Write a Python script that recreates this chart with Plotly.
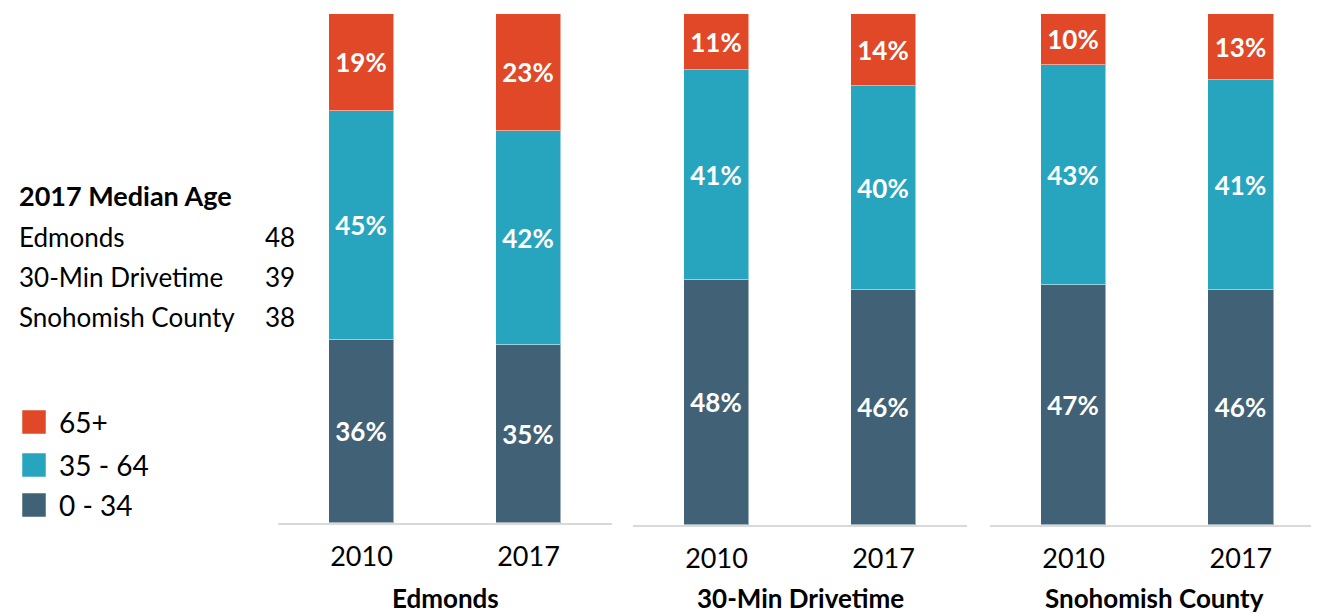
from plotly.subplots import make_subplots
import plotly.graph_objects as go

# data
areas = ["Edmonds", "30-Min Drivetime", "Snohomish County"]
years = ["2010", "2017"]
age_0_34 = [[36, 35], [48, 46], [47, 46]]
age_35_64 = [[45, 42], [41, 40], [43, 41]]
age_65_plus = [[19, 23], [11, 14], [10, 13]]
median_age_2017 = [48, 39, 38]

groups = ["0 - 34", "35 - 64", "65+"]
colors = ["#416176", "#28A5BE", "#E04827"]
FONT = "Lato"

# the page body has an 8px margin, so the figure is a bit smaller than the window
W, H, OFF = 1311, 606, 8

def px(x):
	return (x - OFF) / W

def py(y):
	return 1 - (y - OFF) / H

fig = make_subplots(rows=1, cols=3)

for c, area in enumerate(areas):
	for g, vals in enumerate([age_0_34, age_35_64, age_65_plus]):
		fig.add_trace(go.Bar(
			x=years, y=vals[c], name=groups[g], showlegend=False,
			marker=dict(color=colors[g], line=dict(color="rgba(255,255,255,0.5)", width=1)),
			width=0.39,
			texttemplate="%{y}%", textposition="inside", insidetextanchor="middle",
			textangle=0, constraintext="none",
			textfont=dict(family=FONT, size=26, color="white", weight="bold"),
		), row=1, col=c + 1)

fig.update_layout(barmode="stack")

# panel geometry
xdom = [[px(278), px(612)], [px(633), px(967)], [px(990), 1.0]]
ydom = [[py(523), py(14)], [py(525), py(14)], [py(525), py(14)]]
xrng = [[-0.5, 1.5], [-0.5, 1.5], [-0.5, 1.467]]

for i in range(3):
	sfx = "" if i == 0 else str(i + 1)
	fig.layout["xaxis" + sfx].update(
		domain=xdom[i], range=xrng[i], showline=True, linecolor="#D9D9D9", linewidth=2,
		showgrid=False, zeroline=False, ticks="", ticklabelstandoff=9,
		tickfont=dict(family=FONT, size=27, color="black"),
	)
	fig.layout["yaxis" + sfx].update(
		domain=ydom[i], range=[0, 100], visible=False, showgrid=False, zeroline=False,
	)
	# panel title
	fig.add_annotation(
		text="<b>" + areas[i] + "</b>", xref="x" + sfx + " domain", x=0.5,
		yref="paper", y=py(598), yanchor="middle", showarrow=False,
		font=dict(family=FONT, size=26, color="black"),
	)

# median age block
fig.add_annotation(
	text="<b>2017 Median Age</b>", xref="paper", x=px(17), xanchor="left",
	yref="paper", y=py(195), yanchor="middle", showarrow=False,
	font=dict(family=FONT, size=27, color="black"),
)
rows_y = [237, 277, 317]
for i, area in enumerate(areas):
	fig.add_annotation(
		text=area, xref="paper", x=px(17), xanchor="left",
		yref="paper", y=py(rows_y[i]), yanchor="middle", showarrow=False,
		font=dict(family=FONT, size=26, color="black"),
	)
	fig.add_annotation(
		text=str(median_age_2017[i]), xref="paper", x=px(297), xanchor="right",
		yref="paper", y=py(rows_y[i]), yanchor="middle", showarrow=False,
		font=dict(family=FONT, size=26, color="black"),
	)

# legend (drawn by hand to get the large swatches)
leg_y = [422, 465, 505]
for i, g in enumerate(reversed(groups)):
	col = colors[len(groups) - 1 - i]
	yc = leg_y[i]
	fig.add_shape(
		type="rect", xref="paper", yref="paper",
		x0=px(22), x1=px(46), y0=py(yc + 12), y1=py(yc - 12),
		fillcolor=col, line=dict(color="rgba(255,255,255,0.5)", width=1),
	)
	fig.add_annotation(
		text=g, xref="paper", x=px(57), xanchor="left",
		yref="paper", y=py(yc), yanchor="middle", showarrow=False,
		font=dict(family=FONT, size=28, color="black"),
	)

fig.update_layout(
	width=W, height=H, margin=dict(l=0, r=0, t=0, b=0),
	paper_bgcolor="white", plot_bgcolor="white", bargap=0,
	font=dict(family=FONT),
)

fig.write_html("out.html")
